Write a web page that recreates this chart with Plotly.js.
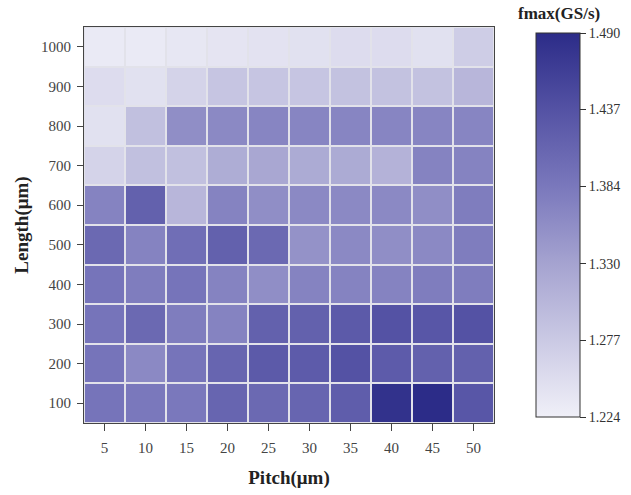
<!DOCTYPE html>
<html><head><meta charset="utf-8">
<script src="https://cdn.plot.ly/plotly-3.0.1.min.js"></script>
<style>body{margin:0;background:#fff}#c{width:631px;height:495px}</style>
</head><body><div id="c"></div>
<script>
const pitch = [5,10,15,20,25,30,35,40,45,50];
const length = [100,200,300,400,500,600,700,800,900,1000];
const fmax = [
  [1.389,1.384,1.384,1.410,1.405,1.410,1.421,1.482,1.490,1.431],
  [1.389,1.362,1.389,1.410,1.426,1.424,1.437,1.424,1.416,1.416],
  [1.389,1.405,1.378,1.370,1.416,1.416,1.426,1.437,1.431,1.437],
  [1.389,1.378,1.389,1.370,1.357,1.370,1.370,1.370,1.378,1.378],
  [1.405,1.370,1.397,1.416,1.405,1.352,1.362,1.357,1.362,1.378],
  [1.370,1.416,1.304,1.370,1.357,1.362,1.362,1.362,1.357,1.378],
  [1.264,1.291,1.291,1.317,1.325,1.320,1.320,1.309,1.370,1.370],
  [1.245,1.291,1.357,1.362,1.368,1.368,1.368,1.368,1.368,1.368],
  [1.251,1.245,1.264,1.283,1.283,1.283,1.288,1.288,1.288,1.304],
  [1.232,1.232,1.237,1.240,1.243,1.245,1.251,1.251,1.245,1.272]
];
const cbTicks = [1.224,1.277,1.330,1.384,1.437,1.490];
const serif = 'Liberation Serif, Times New Roman, serif';
Plotly.newPlot('c', [{
  type:'heatmap', x:pitch, y:length, z:fmax,
  zmin:1.224, zmax:1.490, xgap:2, ygap:2,
  colorscale:[[0,'rgb(240,240,248)'],[0.4,'rgb(165,163,208)'],[0.6,'rgb(122,120,188)'],[0.8,'rgb(84,82,164)'],[1,'rgb(44,44,136)']],
  colorbar:{
    x:1.102, xanchor:'left', xref:'paper', xpad:0, ypad:0,
    y:0.5, yanchor:'middle', len:0.97, lenmode:'fraction', thickness:44,
    outlinewidth:1, outlinecolor:'#333',
    tickvals:cbTicks, ticktext:cbTicks.map(v=>v.toFixed(3)),
    ticks:'outside', ticklen:6, tickcolor:'#333',
    tickfont:{family:serif,size:14,color:'#333'}
  }
}], {
  width:631, height:495,
  margin:{l:84, r:137, t:27, b:72, autoexpand:false},
  paper_bgcolor:'#fff', plot_bgcolor:'#e2e2ea',
  xaxis:{tickvals:pitch, ticks:'outside', ticklen:7, tickcolor:'#444', ticklabelstandoff:4,
    showline:true, linecolor:'#444', linewidth:1, mirror:true, showgrid:false, zeroline:false,
    tickfont:{family:serif,size:15,color:'#444'},
    title:{text:'<b>Pitch(μm)</b>', font:{family:serif,size:19,color:'#222'}, standoff:15}},
  yaxis:{tickvals:length, ticks:'outside', ticklen:6, tickcolor:'#444', ticklabelstandoff:3,
    showline:true, linecolor:'#444', linewidth:1, mirror:true, showgrid:false, zeroline:false,
    tickfont:{family:serif,size:15,color:'#444'},
    title:{text:'<b>Length(μm)</b>', font:{family:serif,size:19,color:'#222'}, standoff:7}},
  annotations:[{text:'<b>fmax(GS/s)</b>', xref:'paper', yref:'paper', x:1.158, y:1.035, xanchor:'center', yanchor:'middle',
    showarrow:false, font:{family:serif,size:17,color:'#222'}}]
}, {displayModeBar:false});
</script></body></html>
